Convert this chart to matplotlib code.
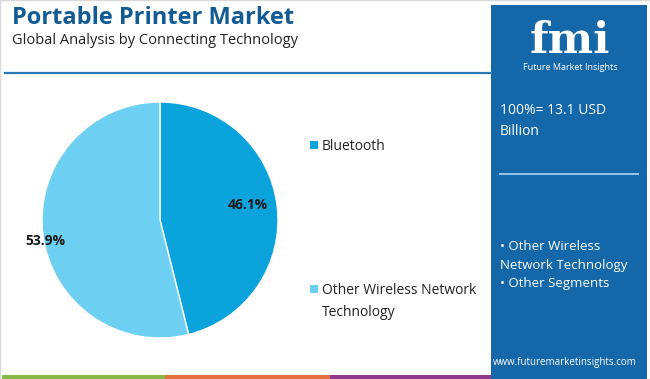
import matplotlib.pyplot as plt
from matplotlib.patches import Rectangle

plt.rcParams['font.family'] = ['Open Sans', 'DejaVu Sans']

# data
segments = ["Bluetooth", "Other Wireless Network\nTechnology"]
shares = [46.1, 53.9]
colors = ["#0ba3db", "#6dcff2"]
title = "Portable Printer Market"
subtitle = "Global Analysis by Connecting Technology"
total_note = "100%= 13.1 USD\nBillion"
panel_notes = "• Other Wireless\nNetwork Technology\n• Other Segments"

W, H = 650, 379
fig = plt.figure(figsize=(W / 100, H / 100), dpi=100)


def fx(x):
    return x / W


def fy(y):
    return 1 - y / H


# frame
fig.patches.append(Rectangle((0, 0), 1, 1, transform=fig.transFigure,
                             fill=False, edgecolor="#d9d9d9", lw=1))

# titles
fig.text(fx(12), fy(18), title, fontsize=17, fontweight="bold",
         color="#125b94", va="center")
fig.text(fx(12), fy(41), subtitle, fontsize=10.5, color="#222222", va="center")

# separator line
fig.add_artist(plt.Line2D([fx(5), fx(491)], [fy(73), fy(73)],
                          transform=fig.transFigure, color="#2a7ab8", lw=1.6))

# bottom strip
strip = [("#86b94a", 2, 165), ("#e3703f", 165, 330), ("#8e3a8d", 330, 492)]
for c, a, b in strip:
    fig.patches.append(Rectangle((fx(a), 0), fx(b - a), 4 / H,
                                 transform=fig.transFigure, color=c, lw=0))

# right panel
fig.patches.append(Rectangle((fx(491), 0), fx(W - 491 - 3), fy(5),
                             transform=fig.transFigure, color="#1467a8", lw=0))
fig.text(fx(570), fy(53), "fmi", fontsize=31, fontweight="bold",
         family="DejaVu Serif", color="white", ha="center", va="baseline")
for yy in range(22, 54, 5):
    fig.add_artist(plt.Line2D([fx(518), fx(622)], [fy(yy), fy(yy)],
                              transform=fig.transFigure, color="#1467a8", lw=1))
fig.text(fx(570), fy(68), "Future Market Insights", fontsize=6.5,
         color="white", ha="center", va="center")
fig.text(fx(500), fy(121), total_note, fontsize=10, color="white",
         va="center", linespacing=1.6)
fig.add_artist(plt.Line2D([fx(500), fx(638)], [fy(174), fy(174)],
                          transform=fig.transFigure, color="#8fc3ea", lw=1.5))
fig.text(fx(500), fy(265), panel_notes, fontsize=9.5, color="white",
         va="center", linespacing=1.55)
fig.text(fx(637), fy(363), "www.futuremarketinsights.com", fontsize=7,
         color="white", ha="right", va="center")

# pie
cx, cy, r = 160, 220, 118
ax = fig.add_axes([fx(cx - r), fy(cy + r), 2 * r / W, 2 * r / H])
wedges, _ = ax.pie(shares, colors=colors, startangle=90, counterclock=False,
                   wedgeprops=dict(edgecolor="white", linewidth=1))
ax.set_aspect("auto")
ax.set_xlim(-1, 1)
ax.set_ylim(-1, 1)
label_pos = [(0.74, 0.13), (-0.97, -0.18)]
for (px, py), v in zip(label_pos, shares):
    ax.text(px, py, f"{v}%", fontsize=10, fontweight="bold", color="#1a1a1a",
            ha="center", va="center")

# legend
leg_y = [145, 289]
for name, c, yy in zip(segments, colors, leg_y):
    fig.patches.append(Rectangle((fx(310), fy(yy + 4)), 8 / W, 8 / H,
                                 transform=fig.transFigure, color=c, lw=0))
    fig.text(fx(322), fy(yy - 6), name, fontsize=10, color="#222222",
             va="top", linespacing=1.6)

fig.savefig("out.png", dpi=100)
